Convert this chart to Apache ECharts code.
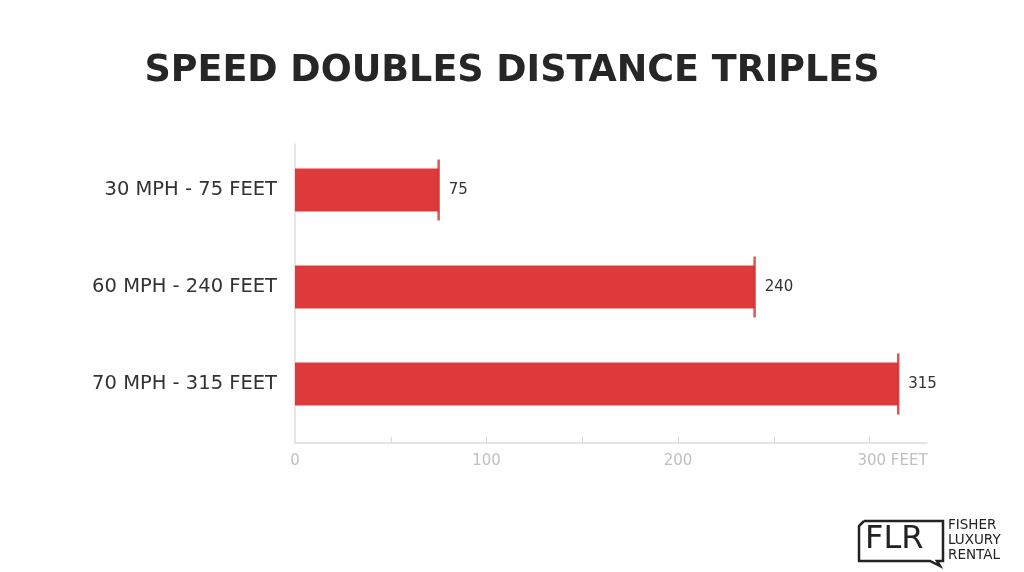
<!DOCTYPE html>
<html>
<head>
<meta charset="utf-8">
<script src="https://cdn.jsdelivr.net/npm/echarts@6/dist/echarts.min.js"></script>
<style>
html,body{margin:0;padding:0;background:#fff;}
#chart{width:1024px;height:572px;}
</style>
</head>
<body>
<div id="chart"></div>
<script>
var titleText = 'SPEED DOUBLES DISTANCE TRIPLES';
var categories = ['30 MPH - 75 FEET', '60 MPH - 240 FEET', '70 MPH - 315 FEET'];
var distances = [75, 240, 315];
var tickValues = [50, 100, 150, 200, 250, 300];
var labelValues = [0, 100, 200, 300];
var unitLabel = 'FEET';

var FONT = '"DejaVu Sans", sans-serif';
var chart = echarts.init(document.getElementById('chart'));
var gridLeft = 295, gridTop = 141.5, gridBottom = 139.5, xOffset = 10.5;

var option = {
  backgroundColor: '#ffffff',
  animation: false,
  title: {
    text: titleText,
    left: 'center',
    top: 48,
    textStyle: { fontFamily: FONT, fontWeight: 'bold', fontSize: 36.5, color: '#262626' }
  },
  grid: { left: gridLeft, right: 97, top: gridTop, bottom: gridBottom, containLabel: false },
  xAxis: {
    type: 'value',
    min: 0,
    max: 330,
    offset: xOffset,
    splitLine: { show: false },
    axisLine: { show: true, lineStyle: { color: '#dcdcdc', width: 1.5 } },
    axisTick: { show: true, inside: true, length: 6, customValues: tickValues, lineStyle: { color: '#d8d8d8', width: 1 } },
    axisLabel: {
      customValues: labelValues,
      margin: 11,
      color: '#c0c0c0',
      fontFamily: FONT,
      fontSize: 15,
      formatter: function (v) {
        if (v === 300) return '{sp|}' + v + ' ' + unitLabel;
        return String(v);
      },
      rich: { sp: { width: 46 } }
    }
  },
  yAxis: {
    type: 'category',
    inverse: true,
    data: categories,
    axisLine: { show: false },
    axisTick: { show: false },
    axisLabel: { margin: 18, color: '#333333', fontFamily: FONT, fontSize: 19.5 }
  },
  series: [
    {
      type: 'bar',
      data: distances,
      barWidth: 43,
      itemStyle: { color: '#de3a3b' },
      label: { show: true, position: 'right', distance: 10, color: '#333333', fontFamily: FONT, fontSize: 15 },
      z: 2
    },
    {
      type: 'scatter',
      data: distances.map(function (v, i) { return [v, i]; }),
      symbol: 'rect',
      symbolSize: [2.5, 61],
      itemStyle: { color: '#cc2f30' },
      z: 3
    }
  ],
  graphic: [
    {
      type: 'line',
      shape: { x1: gridLeft, y1: gridTop + 2, x2: gridLeft, y2: 572 - gridBottom + xOffset },
      style: { stroke: '#dcdcdc', lineWidth: 1.5 },
      z: 1
    },
    {
      type: 'polyline',
      shape: { points: [[864, 521], [943, 521], [943, 561], [937, 561], [940, 566], [930, 561], [859, 561], [859, 526], [864, 521]] },
      style: { stroke: '#222', lineWidth: 2.5, fill: null }
    },
    {
      type: 'text',
      left: 865, top: 524,
      style: { text: 'FLR', fontFamily: FONT, fontSize: 32, fontWeight: 400, fill: '#222' }
    },
    {
      type: 'text',
      left: 948, top: 518,
      style: { text: 'FISHER\nLUXURY\nRENTAL', fontFamily: FONT, fontSize: 13.5, lineHeight: 15, fontWeight: 400, fill: '#222' }
    }
  ]
};
chart.setOption(option);
</script>
</body>
</html>
